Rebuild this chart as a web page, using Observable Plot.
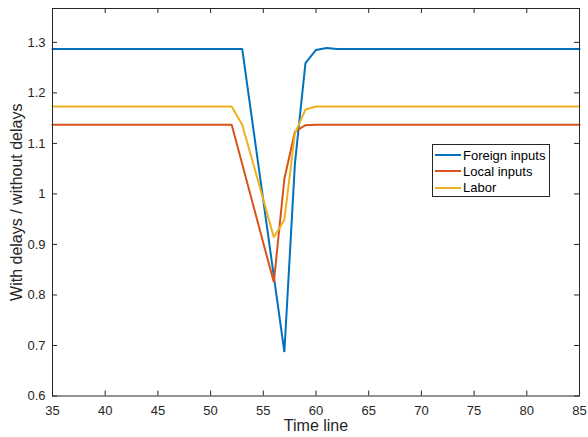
<!DOCTYPE html>
<html>
<head>
<meta charset="utf-8">
<script src="https://cdn.jsdelivr.net/npm/d3@7"></script>
<script src="https://cdn.jsdelivr.net/npm/@observablehq/plot@0.6"></script>
<style>
  html, body { margin: 0; padding: 0; background: #fff; }
  #wrap { position: relative; width: 588px; height: 437px; font-family: "Liberation Sans", Arial, sans-serif; }
  #legend { position: absolute; left: 432px; top: 144px; width: 118px; height: 53px; box-sizing: border-box;
            border: 1px solid #262626; background: #fff; padding-top: 2px; }
  .row { display: flex; align-items: center; height: 16.3px; font-size: 13px; color: #000; }
  .row svg { margin-left: 2px; margin-right: 2px; }
</style>
</head>
<body>
<div id="wrap"></div>
<script>
// ---- data ----
const time = [35,36,37,38,39,40,41,42,43,44,45,46,47,48,49,50,51,52,53,54,55,56,57,58,59,60,
              61,62,63,64,65,66,67,68,69,70,71,72,73,74,75,76,77,78,79,80,81,82,83,84,85];
const foreignInputs = [1.287,1.287,1.287,1.287,1.287,1.287,1.287,1.287,1.287,1.287,1.287,1.287,1.287,1.287,1.287,1.287,1.287,1.287,
                       1.287,1.137,0.987,0.837,0.687,1.06,1.259,1.285,1.289,
                       1.287,1.287,1.287,1.287,1.287,1.287,1.287,1.287,1.287,1.287,1.287,1.287,1.287,1.287,1.287,1.287,1.287,1.287,1.287,1.287,1.287,1.287,1.287,1.287];
const localInputs = [1.137,1.137,1.137,1.137,1.137,1.137,1.137,1.137,1.137,1.137,1.137,1.137,1.137,1.137,1.137,1.137,1.137,1.137,
                     1.059,0.981,0.903,0.825,1.03,1.123,1.136,
                     1.137,1.137,1.137,1.137,1.137,1.137,1.137,1.137,1.137,1.137,1.137,1.137,1.137,1.137,1.137,1.137,1.137,1.137,1.137,1.137,1.137,1.137,1.137,1.137,1.137,1.137];
const labor = [1.173,1.173,1.173,1.173,1.173,1.173,1.173,1.173,1.173,1.173,1.173,1.173,1.173,1.173,1.173,1.173,1.173,1.173,
               1.137,1.063,0.989,0.914,0.949,1.12,1.167,
               1.173,1.173,1.173,1.173,1.173,1.173,1.173,1.173,1.173,1.173,1.173,1.173,1.173,1.173,1.173,1.173,1.173,1.173,1.173,1.173,1.173,1.173,1.173,1.173,1.173,1.173];
const seriesNames = ["Foreign inputs", "Local inputs", "Labor"];
const seriesColors = ["#0072BD", "#D95319", "#EDB120"];
const xTicks = [35,40,45,50,55,60,65,70,75,80,85];
const yTicks = [0.6,0.7,0.8,0.9,1.0,1.1,1.2,1.3];
const xLabel = "Time line";
const yLabel = "With delays / without delays";

// ---- layout ----
const W = 588, H = 437;
const mL = 52, mR = 9, mT = 8, mB = 41.5;
const innerW = W - mL - mR, innerH = H - mT - mB;
const ink = "#262626";

const allSeries = [foreignInputs, localInputs, labor];
const rows = [];
allSeries.forEach((vals, s) => vals.forEach((v, i) => rows.push({series: seriesNames[s], t: time[i], v})));

const chart = Plot.plot({
  width: W, height: H,
  marginLeft: mL, marginRight: mR, marginTop: mT, marginBottom: mB,
  style: {fontFamily: '"Liberation Sans", Arial, sans-serif', fontSize: "13px", color: ink, background: "#fff"},
  x: {domain: [35, 85]},
  y: {domain: [0.6, 1.367]},
  color: {domain: seriesNames, range: seriesColors},
  marks: [
    Plot.axisX({ticks: xTicks, tickSize: 0, tickPadding: 10, label: null, fill: ink, fontSize: 13}),
    Plot.axisY({ticks: yTicks, tickSize: 0, tickPadding: 7, label: null, fill: ink, fontSize: 13,
                tickFormat: d => String(+d.toFixed(1))}),
    // inward ticks on all four sides
    Plot.ruleX(xTicks, {x: d => d, insetTop: innerH - 5, stroke: ink}),
    Plot.ruleX(xTicks, {x: d => d, insetBottom: innerH - 5, stroke: ink}),
    Plot.ruleY(yTicks, {y: d => d, insetRight: innerW - 5, stroke: ink}),
    Plot.ruleY(yTicks, {y: d => d, insetLeft: innerW - 5, stroke: ink}),
    Plot.line(rows, {x: "t", y: "v", z: "series", stroke: "series", strokeWidth: 2, strokeLinejoin: "miter"}),
    Plot.frame({stroke: ink, strokeWidth: 1}),
    Plot.text([xLabel], {text: d => d, frameAnchor: "bottom", dy: 35, fontSize: 16, fill: ink}),
    Plot.text([yLabel], {text: d => d, frameAnchor: "left", textAnchor: "middle", dx: -35.5, rotate: -90, fontSize: 16, fill: ink})
  ]
});

const wrap = document.getElementById("wrap");
wrap.appendChild(chart);

// legend
const legend = document.createElement("div");
legend.id = "legend";
seriesNames.forEach((name, i) => {
  const row = document.createElement("div");
  row.className = "row";
  row.innerHTML = `<svg width="26" height="4"><line x1="0" x2="26" y1="2" y2="2" stroke="${seriesColors[i]}" stroke-width="2"/></svg><span>${name}</span>`;
  legend.appendChild(row);
});
wrap.appendChild(legend);
</script>
</body>
</html>
